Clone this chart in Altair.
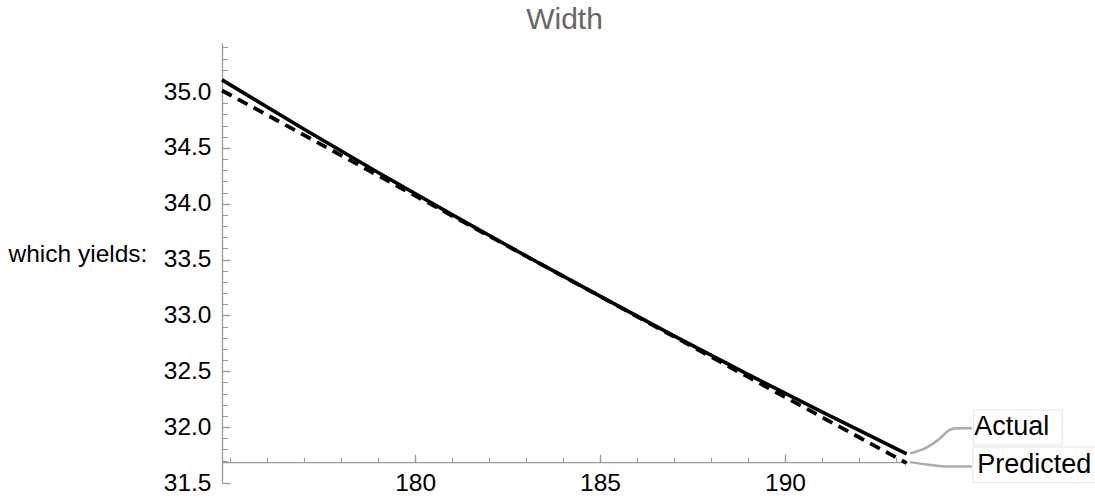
import altair as alt
import pandas as pd

# ---------------- data ----------------
title_text = "Width"
y_title = "which yields:"
series_names = ["Actual", "Predicted"]

x_pos = [174.78, 177, 179, 181, 183, 185, 187, 189, 191, 193.29]
actual_vals = [35.11, 34.667, 34.28, 33.903, 33.533, 33.173, 32.818, 32.473, 32.136, 31.761]
predicted_vals = [35.015, 34.615, 34.253, 33.893, 33.532, 33.172, 32.81, 32.45, 32.09, 31.678]

# callout leader lines (data coordinates), label anchors and label frames
callout_actual_x = [193.38, 193.84, 194.19, 194.43, 194.65, 195.05]
callout_actual_y = [31.765, 31.819, 31.899, 31.971, 31.991, 31.991]
callout_pred_x = [193.38, 193.84, 194.45, 195.05]
callout_pred_y = [31.687, 31.666, 31.648, 31.648]
label_x = [195.12, 195.2]
label_y = [31.997, 31.665]
box_x1 = [195.1, 195.08]
box_x2 = [197.5, 198.4]
box_y1 = [31.84, 31.505]
box_y2 = [32.154, 31.823]

x_domain = [174.78, 193.3]
y_domain = [31.5, 35.44]
x_major_ticks = [180, 185, 190]
x_minor_ticks = list(range(175, 194))
y_major_ticks = [31.5, 32.0, 32.5, 33.0, 33.5, 34.0, 34.5, 35.0]
y_minor_ticks = [round(31.7 + 0.1 * i, 1) for i in range(38)]
x_axis_cross = 31.687

# ---------------- layout / style ----------------
W, H = 685, 440
FONT = "Liberation Sans"
GRAY = "#9a9a9a"
axis_cross_px = (y_domain[1] - x_axis_cross) / (y_domain[1] - y_domain[0]) * H

df_lines = pd.DataFrame({"x": x_pos, "Actual": actual_vals, "Predicted": predicted_vals})
df_call = pd.DataFrame({
    "cx": callout_actual_x + callout_pred_x,
    "cy": callout_actual_y + callout_pred_y,
    "series": [series_names[0]] * len(callout_actual_x) + [series_names[1]] * len(callout_pred_x),
})
df_lab = pd.DataFrame({"lx": label_x, "ly": label_y, "series": series_names,
                       "bx1": box_x1, "bx2": box_x2, "by1": box_y1, "by2": box_y2})

xs = alt.Scale(domain=x_domain, nice=False, zero=False)
ys = alt.Scale(domain=y_domain, nice=False, zero=False)

axis_x_labels = alt.Axis(orient="bottom", offset=-(H - axis_cross_px), values=x_major_ticks,
                         ticks=False, domain=False, grid=False, title=None,
                         labelFontSize=24.5, labelFont=FONT, labelColor="black",
                         labelPadding=9, labelFlush=False, tickSize=0)
axis_y_labels = alt.Axis(orient="left", values=y_major_ticks, format=".1f",
                         ticks=False, domain=False, grid=False, tickSize=0,
                         labelFontSize=24.5, labelFont=FONT, labelColor="black",
                         labelPadding=11, labelFlush=False,
                         title=y_title, titleAngle=0, titleX=-214, titleY=218,
                         titleAlign="left", titleBaseline="alphabetic",
                         titleFontSize=24.5, titleFontWeight="normal", titleFont=FONT,
                         titleColor="black")
axis_x_major = alt.Axis(orient="top", offset=-axis_cross_px, values=x_major_ticks,
                        labels=False, ticks=True, tickSize=8, tickColor=GRAY, tickWidth=1.3,
                        domain=True, domainColor=GRAY, domainWidth=1.3, grid=False, title=None)
axis_y_major = alt.Axis(orient="right", offset=-W, values=y_major_ticks,
                        labels=False, ticks=True, tickSize=8, tickColor=GRAY, tickWidth=1.3,
                        domain=True, domainColor=GRAY, domainWidth=1.3, grid=False, title=None)
axis_x_minor = alt.Axis(orient="top", offset=-axis_cross_px, values=x_minor_ticks,
                        labels=False, ticks=True, tickSize=5, tickColor=GRAY, tickWidth=1.1,
                        domain=False, grid=False, title=None)
axis_y_minor = alt.Axis(orient="right", offset=-W, values=y_minor_ticks,
                        labels=False, ticks=True, tickSize=5.5, tickColor=GRAY, tickWidth=1.1,
                        domain=False, grid=False, title=None)

callouts = alt.Chart(df_call).mark_line(color="#ababab", strokeWidth=2.5, interpolate="monotone").encode(
    x=alt.X("cx:Q", scale=xs, axis=axis_x_minor),
    y=alt.Y("cy:Q", scale=ys, axis=axis_y_minor),
    detail="series:N",
)
dashed = alt.Chart(df_lines).mark_line(color="black", strokeWidth=3.8, strokeDash=[11, 7]).encode(
    x=alt.X("x:Q", scale=xs, axis=axis_x_major),
    y=alt.Y("Predicted:Q", scale=ys, axis=axis_y_major),
)
solid = alt.Chart(df_lines).mark_line(color="black", strokeWidth=3.6).encode(
    x=alt.X("x:Q", scale=xs, axis=axis_x_labels),
    y=alt.Y("Actual:Q", scale=ys, axis=axis_y_labels),
)
boxes = alt.Chart(df_lab).mark_rect(fill="white", stroke="#e6e6e6", strokeWidth=1).encode(
    x=alt.X("bx1:Q", scale=xs, axis=None),
    x2="bx2:Q",
    y=alt.Y("by1:Q", scale=ys, axis=None),
    y2="by2:Q",
)
labels = alt.Chart(df_lab).mark_text(align="left", baseline="middle", fontSize=27,
                                     font=FONT, color="black").encode(
    x=alt.X("lx:Q", scale=xs, axis=None),
    y=alt.Y("ly:Q", scale=ys, axis=None),
    text="series:N",
)

chart = alt.layer(callouts, dashed, solid, boxes, labels).resolve_axis(
    x="independent", y="independent"
).properties(
    width=W, height=H,
    title=alt.TitleParams(title_text, fontSize=30, font=FONT, color="#666666",
                          fontWeight="normal", anchor="middle", frame="group",
                          offset=12, baseline="alphabetic", dy=28),
    padding={"left": 222, "top": 43, "right": 188, "bottom": 17},
    autosize="none",
).configure_view(stroke="transparent")

chart.save("out.html", embed_options={"renderer": "svg", "actions": False})
